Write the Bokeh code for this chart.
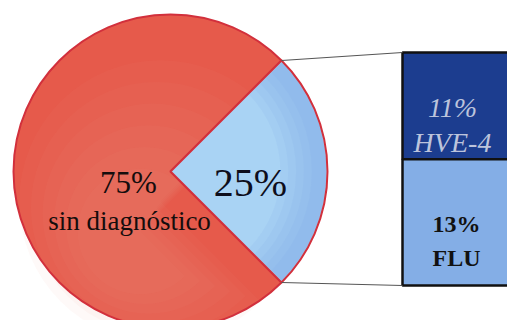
import math
from bokeh.plotting import figure
from bokeh.embed import file_html
from bokeh.resources import INLINE
from bokeh.core.properties import value

# ---- data ----
pie_labels = ["sin diagnóstico", "diagnosticado"]
pie_values = [75, 25]
pie_texts = ["75%", "25%"]
sub_labels = ["HVE-4", "FLU"]
sub_values = [11, 13]
sub_texts = ["11%", "13%"]

W, H = 507, 320
p = figure(width=W, height=H, x_range=(0, W), y_range=(0, H),
           output_backend="svg", toolbar_location=None, min_border=0)
p.axis.visible = False
p.grid.visible = False
p.outline_line_color = None
p.background_fill_color = "white"

# layout (pixel units, y up)
cx, cy, r = 170, 320 - 171, 157
total = sum(pie_values)
blue_span = 2 * math.pi * pie_values[1] / total
b_start, b_end = -blue_span / 2, blue_span / 2
r_start, r_end = b_end, b_start + 2 * math.pi

# red wedge (75%)
p.wedge(x=[cx], y=[cy], radius=r, start_angle=[r_start], end_angle=[r_end],
        fill_color="#e65a4b", line_color=None)
# gentle lighter shading toward the bottom
for k in range(6):
    p.wedge(x=[cx - 10 - 4 * k], y=[cy - 30 - 6 * k], radius=r * (0.9 - 0.1 * k),
            start_angle=[r_start], end_angle=[r_end],
            fill_color="#f4a08c", fill_alpha=0.06, line_color=None)
p.wedge(x=[cx], y=[cy], radius=r, start_angle=[r_start], end_angle=[r_end],
        fill_color=None, line_color="#d2303c", line_width=2)
# blue wedge (25%)
p.wedge(x=[cx], y=[cy], radius=r, start_angle=[b_start], end_angle=[b_end],
        fill_color="#a9d3f4", line_color=None)
for k in range(5):
    p.annular_wedge(x=[cx], y=[cy], inner_radius=r * (0.70 + 0.05 * k), outer_radius=r - 1,
                    start_angle=[b_start + 0.01], end_angle=[b_end - 0.01],
                    fill_color="#7aa6e4", fill_alpha=0.12, line_color=None)
p.wedge(x=[cx], y=[cy], radius=r, start_angle=[b_start], end_angle=[b_end],
        fill_color=None, line_color="#d2303c", line_width=2)

# stacked box
box_left, box_right = 402, 520
box_top, box_bottom = 320 - 52, 320 - 285
box_h = box_top - box_bottom
sub_total = sum(sub_values)
h_top = box_h * sub_values[0] / sub_total
tops = [box_top, box_top - h_top]
bottoms = [box_top - h_top, box_bottom]
p.quad(left=[box_left] * 2, right=[box_right] * 2, top=tops, bottom=bottoms,
       fill_color=["#1c3d8f", "#84aee6"], line_color="#111111", line_width=2.5)

# connector lines
ux, uy = cx + r * math.cos(b_end), cy + r * math.sin(b_end)
lx, ly = cx + r * math.cos(b_start), cy + r * math.sin(b_start)
p.line(x=[ux, box_left], y=[uy, box_top], line_color="#555555", line_width=1.2)
p.line(x=[lx, box_left], y=[ly, box_bottom], line_color="#555555", line_width=1.2)

serif = value("Liberation Serif")
# pie labels
p.text(x=[128], y=[320 - 182], text=[pie_texts[0]], text_font=serif,
       text_font_size="31px", text_align="center", text_baseline="alphabetic",
       text_color="#150d0d")
p.text(x=[129], y=[320 - 220], text=[pie_labels[0]], text_font=serif,
       text_font_size="27px", text_align="center", text_baseline="alphabetic",
       text_color="#150d0d")
p.text(x=[250], y=[320 - 182], text=[pie_texts[1]], text_font=serif,
       text_font_size="40px", text_align="center", text_baseline="alphabetic",
       text_color="#0e0e1c")

# box labels
bx = 452
p.text(x=[bx, bx], y=[320 - 107, 320 - 142], text=[sub_texts[0], sub_labels[0]],
       text_font=serif, text_font_style="italic", text_font_size="28px",
       text_align="center", text_baseline="alphabetic", text_color="#bcc4dc")
p.text(x=[bx + 4, bx + 4], y=[320 - 223, 320 - 257], text=[sub_texts[1], sub_labels[1]],
       text_font=serif, text_font_style="bold", text_font_size="24px",
       text_align="center", text_baseline="alphabetic", text_color="#111111")

open("out.html", "w").write(file_html(p, INLINE))
